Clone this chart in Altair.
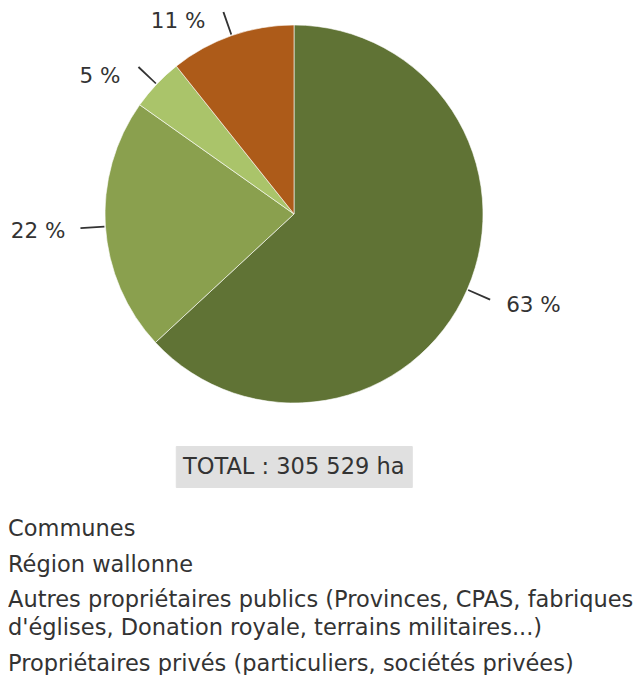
import altair as alt
import pandas as pd

# ---- data ----
categories = [
    "Communes",
    "Région wallonne",
    "Autres propriétaires publics (Provinces, CPAS, fabriques\nd'églises, Donation royale, terrains militaires...)",
    "Propriétaires privés (particuliers, sociétés privées)",
]
hectares = [192789, 66300, 13749, 32691]
pct_labels = ["63 %", "22 %", "5 %", "11 %"]
colors = ["#607335", "#8aa04e", "#aac46a", "#ad5b19"]
total_text = ["TOTAL : 305 529 ha"]

FONT = "DejaVu Sans"
TXT = "#333333"
LEG_FS = 22.5
LAB_FS = 21.5

df = pd.DataFrame({
    "idx": list(range(len(categories))),
    "cat": categories,
    "ha": hectares,
    "lab": pct_labels,
})

base = alt.Chart(df).transform_window(
    cum="sum(ha)", sort=[alt.SortField("idx")]
).transform_joinaggregate(
    total="sum(ha)"
).transform_calculate(
    mid="(datum.cum - datum.ha / 2) / datum.total * 2 * PI",
    lo="(datum.cum - datum.ha / 2) / datum.total * 2 * PI - 0.0045",
    hi="(datum.cum - datum.ha / 2) / datum.total * 2 * PI + 0.0045",
)

pie = alt.Chart(df).mark_arc(
    outerRadius=189, stroke="#ffffff", strokeWidth=0.6
).encode(
    theta=alt.Theta("ha:Q", stack=True),
    order=alt.Order("idx:Q"),
    color=alt.Color(
        "cat:N",
        scale=alt.Scale(domain=categories, range=colors),
        legend=alt.Legend(
            title=None,
            orient="none",
            legendX=0,
            legendY=510,
            symbolSize=0,
            symbolStrokeWidth=0,
            symbolOpacity=0,
            labelOffset={"expr": str(-LEG_FS)},
            labelFont=FONT,
            labelFontSize=LEG_FS,
            labelColor=TXT,
            labelLimit=700,
            rowPadding=12.5,
            labelExpr="split(datum.label, '\\n')",
        ),
    ),
)

connectors = base.mark_arc(radius=214, radius2=190, color=TXT).encode(
    theta=alt.Theta("lo:Q", scale=None, stack=None),
    theta2="hi:Q",
)

label_style = dict(baseline="middle", font=FONT, fontSize=LAB_FS, color=TXT, radius=214)

right_labels = base.transform_filter("datum.mid < PI").mark_text(
    dx=16, dy=6, align="left", **label_style
).encode(
    theta=alt.Theta("mid:Q", scale=None, stack=None),
    text="lab:N",
)

left_labels = base.transform_filter("datum.mid >= PI && datum.mid < 1.6 * PI").mark_text(
    dx=-15, dy=4, align="right", **label_style
).encode(
    theta=alt.Theta("mid:Q", scale=None, stack=None),
    text="lab:N",
)

upper_left_labels = base.transform_filter("datum.mid >= 1.6 * PI").mark_text(
    dx=-18, dy=10, align="right", **label_style
).encode(
    theta=alt.Theta("mid:Q", scale=None, stack=None),
    text="lab:N",
)

pie_panel = alt.layer(pie, connectors, right_labels, left_labels, upper_left_labels).properties(
    width=572, height=412
)

total_panel = alt.Chart(pd.DataFrame({"t": total_text})).mark_text(
    font=FONT, fontSize=LEG_FS, color=TXT, baseline="middle"
).encode(text="t:N").properties(
    width=236, height=41,
    view=alt.ViewBackground(fill="#e0e0e0", stroke="#e0e0e0"),
)

chart = alt.vconcat(pie_panel, total_panel, spacing=25, center=True).properties(
    padding=0
).configure_view(strokeWidth=0).configure(
    style={"guide-label": {"lineHeight": 28}}
)

chart.save("out.html", embed_options={"renderer": "svg", "actions": False})
